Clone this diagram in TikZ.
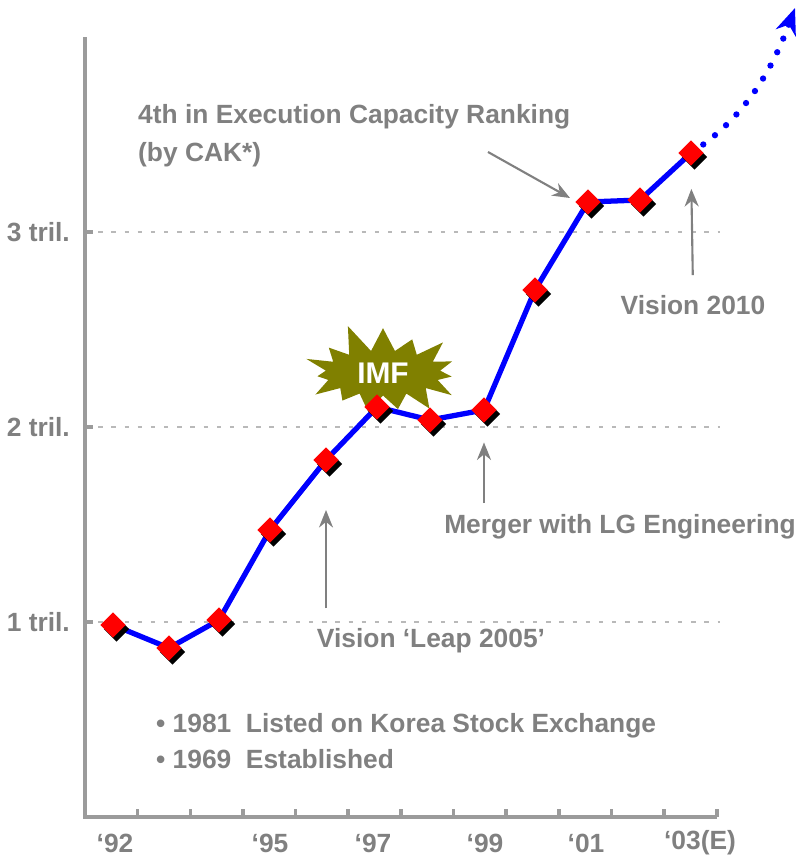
\documentclass[tikz,border=0pt]{standalone}
\usepackage{fontspec}
\setmainfont{Liberation Sans}
\usetikzlibrary{shapes.geometric, shapes.symbols, arrows.meta, positioning}
\definecolor{labelgray}{RGB}{128,128,128}
\definecolor{axisgray}{RGB}{155,155,155}
\definecolor{imfolive}{RGB}{128,128,0}
\tikzset{
    axisline/.style={axisgray, line width=2pt},
    gridline/.style={axisgray!70, line width=0.6pt, dash pattern=on 2.5pt off 5pt},
    trend/.style={blue, line width=3pt},
    datapt/.style={diamond, aspect=1, fill=red, minimum size=14.5pt, inner sep=0pt},
    ptshadow/.style={datapt, fill=black},
    lbl/.style={text=labelgray, font=\bfseries\fontsize{15}{18}\selectfont},
    note/.style={-{Stealth[length=10pt, width=8pt]}, labelgray, line width=1.2pt},
    future/.style={blue, line width=3.6pt, line cap=round, dash pattern=on 0pt off 8.5pt,
        -{Stealth[length=15pt, width=12pt]}}
}

\begin{document}
\begin{tikzpicture}[x=0.02cm, y=-0.02cm]
    \useasboundingbox (0,0) rectangle (799,862);

    % grid and axes
    \foreach \gy in {232,427,622}
        \draw[gridline] (85,\gy) -- (720,\gy);
    \draw[axisline] (85,37) -- (85,817) -- (717,817);
    \foreach \k in {1,...,12}
        \draw[axisline] (85+52.65*\k,817) -- (85+52.65*\k,809);
    \foreach \gy in {232,427,622}
        \draw[axisline] (85,\gy) -- (93,\gy);

    \node[lbl, anchor=east] (tril3) at (76,232) {3 tril.};
    \node[lbl, anchor=east] (tril2) at (76,427) {2 tril.};
    \node[lbl, anchor=east] (tril1) at (76,622) {1 tril.};

    \node[lbl] (yr92) at (115,843) {‘92};
    \node[lbl] (yr95) at (270,843) {‘95};
    \node[lbl] (yr97) at (373,843) {‘97};
    \node[lbl] (yr99) at (485,843) {‘99};
    \node[lbl] (yr01) at (586,843) {‘01};
    \node[lbl] (yr03) at (700,843) {‘03(E)};

    % IMF burst
    \node[starburst, fill=imfolive, starburst points=15, starburst point height=0.6cm,
          minimum width=3.5cm, minimum height=2.1cm, inner sep=1pt, random starburst=11,
          text=white, font=\bfseries\fontsize{17}{20}\selectfont] (imf) at (383,373) {IMF};

    % sales line
    \foreach \yr/\px/\py in {92/113/625, 93/169/648, 94/219/620, 95/270/530, 96/326/460, 97/377/407,
                             98/430/420, 99/484/410, 00/535/290, 01/588/202, 02/640/200, 03/691/153}
        \coordinate (c\yr) at (\px,\py);
    \draw[trend] (c92) -- (c93) -- (c94) -- (c95) -- (c96) -- (c97) -- (c98) -- (c99)
        -- (c00) -- (c01) -- (c02) -- (c03);
    \draw[future] (c03) .. controls (745,118) and (772,70) .. (795,8);

    \foreach \yr/\px/\py in {92/113/625, 93/169/648, 94/219/620, 95/270/530, 96/326/460, 97/377/407,
                             98/430/420, 99/484/410, 00/535/290, 01/588/202, 02/640/200, 03/691/153}
    {
        \node[ptshadow] (s\yr) at (\px+3.5,\py+4) {};
        \node[datapt] (p\yr) at (\px,\py) {};
    }

    % annotations
    \node[lbl, align=left, anchor=north west, font=\bfseries\fontsize{15}{22}\selectfont]
        (rank) at (132,98) {4th in Execution Capacity Ranking\\(by CAK*)};
    \coordinate (rankfrom) at (488,152);
    \draw[note] (rankfrom) -- (570,198);

    \node[lbl] (vis2010) at (693,305) {Vision 2010};
    \draw[note, shorten <=8pt, shorten >=13pt] (vis2010.north) -- (p03.south);

    \node[lbl] (merger) at (620,527) {Merger with LG Engineering};
    \draw[note, shorten <=3pt, shorten >=11pt] (merger.north -| p99) -- (p99.south);

    \node[lbl] (leap) at (431,641) {Vision ‘Leap 2005’};
    \draw[note, shorten <=8pt, shorten >=21pt] (leap.north -| p96) -- (p96.south);

    \node[lbl, align=left, anchor=west, font=\bfseries\fontsize{15}{20.5}\selectfont]
        (history) at (150,741) {\textbullet\ 1981\ \ Listed on Korea Stock Exchange\\\textbullet\ 1969\ \ Established};
\end{tikzpicture}
\end{document}
